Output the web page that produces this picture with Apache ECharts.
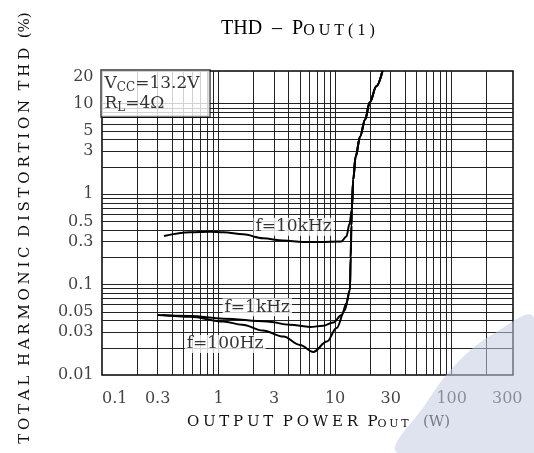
<!DOCTYPE html>
<html><head><meta charset="utf-8">
<script src="https://cdn.jsdelivr.net/npm/echarts@6/dist/echarts.min.js"></script>
<style>html,body{margin:0;padding:0;background:#fff}#c{width:534px;height:453px}</style>
</head><body><div id="c"></div>
<script>
// ---- data ----
const xTickValues = [0.1, 0.3, 1, 3, 10, 30, 100, 300];
const xTickLabels = ['0.1', '0.3', '1', '3', '10', '30', '100', '300'];
const yTickValues = [0.01, 0.03, 0.05, 0.1, 0.3, 0.5, 1, 3, 5, 10, 20];
const yTickLabels = ['0.01', '0.03', '0.05', '0.1', '0.3', '0.5', '1', '3', '5', '10', '20'];
const xGridValues = [0.2,0.3,0.4,0.5,0.6,0.7,0.8,0.9,1,2,3,4,5,6,7,8,9,10,20,30,40,50,60,70,80,90,100,200];
const yGridValues = [0.02,0.03,0.04,0.05,0.06,0.07,0.08,0.09,0.1,0.2,0.3,0.4,0.5,0.6,0.7,0.8,0.9,1,2,3,4,5,6,7,8,9,10];

// shared steep rise (clipping region)
const poutRise = [13.6, 13.8, 13.9, 14.3, 15.0, 16.4, 18.1, 19.8, 22.6, 25.5];
const thdRise  = [0.2, 0.45, 0.67, 1.44, 2.6, 4.35, 6.7, 10.3, 15.6, 23];

const pout10k = [0.34, 0.57, 0.85, 1.1, 1.63, 2.4, 3.6, 5.3, 7.4, 11.3, 12.5, 13.3];
const thd10k  = [0.345, 0.38, 0.385, 0.38, 0.36, 0.325, 0.307, 0.295, 0.295, 0.30, 0.34, 0.47];

const pout1k = [0.3, 0.57, 1.1, 2.6, 4.1, 6.1, 7.9, 9.6, 11.4, 12.5, 13.4];
const thd1k  = [0.046, 0.045, 0.042, 0.039, 0.036, 0.034, 0.035, 0.038, 0.046, 0.062, 0.087];

const pout100 = [0.33, 0.57, 1.1, 1.6, 2.4, 3.6, 5.0, 6.5, 8.5, 10.3, 12.1, 13.4];
const thd100  = [0.046, 0.044, 0.039, 0.036, 0.031, 0.0266, 0.0215, 0.018, 0.0234, 0.033, 0.052, 0.087];

const curveNames = ['f=10kHz', 'f=1kHz', 'f=100Hz'];
const curveLabelX = [4.4, 2.15, 1.14];
const curveLabelY = [0.435, 0.056, 0.022];

const X_MIN = 0.1, X_MAX = 336, Y_MIN = 0.01, Y_MAX = 23;

// ---- build ----
const zip = (a, b) => a.map((v, i) => [v, b[i]]);
const withRise = (a, b) => zip(a, b).concat(
  zip(poutRise, thdRise).filter(p => p[0] > a[a.length - 1] && p[1] > b[b.length - 1]));
const sp = s => s.split('').join('\u2005');
const SERIF = 'DejaVu Serif';

const chart = echarts.init(document.getElementById('c'), null, {renderer: 'canvas'});
const curveStyle = {
  type: 'line', smooth: 0.35, smoothMonotone: 'x', showSymbol: false, symbol: 'none',
  lineStyle: {color: '#000', width: 2}, z: 5, silent: true, animation: false
};
chart.setOption({
  backgroundColor: '#fff',
  animation: false,
  title: {
    left: 216, top: 14,
    text: 'THD  –  P{s|' + sp('OUT(1)') + '}',
    textStyle: {
      fontFamily: 'Liberation Serif', fontSize: 20, fontWeight: 'normal', color: '#000',
      rich: {s: {fontFamily: 'Liberation Serif', fontSize: 16, color: '#000', verticalAlign: 'bottom', lineHeight: 18}}
    }
  },
  grid: {left: 102, right: 21, top: 71, bottom: 78, show: true, borderColor: '#000', borderWidth: 1.5, backgroundColor: '#fff'},
  xAxis: {
    type: 'log', min: X_MIN, max: X_MAX, logBase: 10,
    axisLine: {show: false}, axisTick: {show: false}, axisLabel: {show: false}, splitLine: {show: false},
    name: sp('OUTPUT') + '  ' + sp('POWER') + '  P{s|' + sp('OUT') + '}   (W)',
    nameLocation: 'middle', nameGap: 40,
    nameTextStyle: {
      fontFamily: SERIF, fontSize: 15, color: '#111', padding: [0, 0, 0, 22],
      rich: {s: {fontFamily: SERIF, fontSize: 11, color: '#111', verticalAlign: 'bottom', lineHeight: 14}}
    }
  },
  yAxis: {
    type: 'log', min: Y_MIN, max: Y_MAX, logBase: 10,
    axisLine: {show: false}, axisTick: {show: false}, axisLabel: {show: false}, splitLine: {show: false},
    name: sp('TOTAL') + '  ' + sp('HARMONIC') + '  ' + sp('DISTORTION') + '  ' + sp('THD') + '  (%)',
    nameLocation: 'middle', nameGap: 69, nameRotate: 90,
    nameTextStyle: {fontFamily: SERIF, fontSize: 15, color: '#111', padding: [0, 10, 0, 0]}
  },
  series: [
    {
      name: 'grid', type: 'line', data: [[X_MIN, Y_MIN]], symbol: 'none', lineStyle: {width: 0},
      silent: true, z: 1, animation: false,
      markLine: {
        silent: true, symbol: ['none', 'none'], animation: false, precision: 4,
        label: {show: false},
        lineStyle: {type: 'solid', color: '#222', width: 1},
        emphasis: {disabled: true},
        data: xGridValues.map(v => ({xAxis: v})).concat(yGridValues.map(v => ({yAxis: v})))
      }
    },
    Object.assign({name: curveNames[0], data: withRise(pout10k, thd10k)}, curveStyle),
    Object.assign({name: curveNames[1], data: withRise(pout1k, thd1k)}, curveStyle),
    Object.assign({name: curveNames[2], data: withRise(pout100, thd100)}, curveStyle),
    {
      name: 'curveLabels', type: 'scatter', symbolSize: 1, itemStyle: {color: 'transparent'}, z: 10, silent: true,
      data: curveNames.map((n, i) => [curveLabelX[i], curveLabelY[i], n]),
      label: {
        show: true, position: 'inside', formatter: p => p.value[2],
        fontFamily: SERIF, fontSize: 17, color: '#000', backgroundColor: '#fff', padding: [1, 2, 0, 2]
      }
    },
    {
      name: 'conditions', type: 'scatter', symbolSize: 1, itemStyle: {color: 'transparent'}, z: 10, silent: true,
      data: [[X_MIN, Y_MAX]],
      label: {
        show: true, position: [0, 0],
        formatter: '{m|V}{s|CC}{m|=13.2V}\n{m|R}{s|L}{m|=4Ω}',
        backgroundColor: '#fff', borderColor: '#000', borderWidth: 1.2, padding: [3, 4, 3, 3], width: 101,
        rich: {
          m: {fontFamily: SERIF, fontSize: 17, color: '#000', lineHeight: 20},
          s: {fontFamily: SERIF, fontSize: 12, color: '#000', lineHeight: 14, verticalAlign: 'bottom'}
        }
      }
    },
    {
      name: 'xTicks', type: 'scatter', symbolSize: 1, itemStyle: {color: 'transparent'}, z: 10, silent: true,
      data: xTickValues.map((v, i) => ({value: [v, Y_MIN], label: i === 0 ? {align: 'left'} : {}})),
      label: {
        show: true, position: 'bottom', distance: 15,
        formatter: p => xTickLabels[p.dataIndex],
        fontFamily: SERIF, fontSize: 16, color: '#111'
      }
    },
    {
      name: 'yTicks', type: 'scatter', symbolSize: 1, itemStyle: {color: 'transparent'}, z: 10, silent: true,
      data: yTickValues.map(v => [X_MIN, v]),
      label: {
        show: true, position: 'left', distance: 8,
        formatter: p => yTickLabels[p.dataIndex],
        fontFamily: SERIF, fontSize: 16, color: '#111'
      }
    }
  ],
  graphic: [{
    type: 'polygon', z: 100, silent: true,
    shape: {points: [[398, 453], [425, 405], [458, 362], [495, 333], [534, 318], [534, 453]], smooth: 0.4},
    style: {fill: 'rgba(196,202,226,0.55)'}
  }]
});
</script></body></html>
